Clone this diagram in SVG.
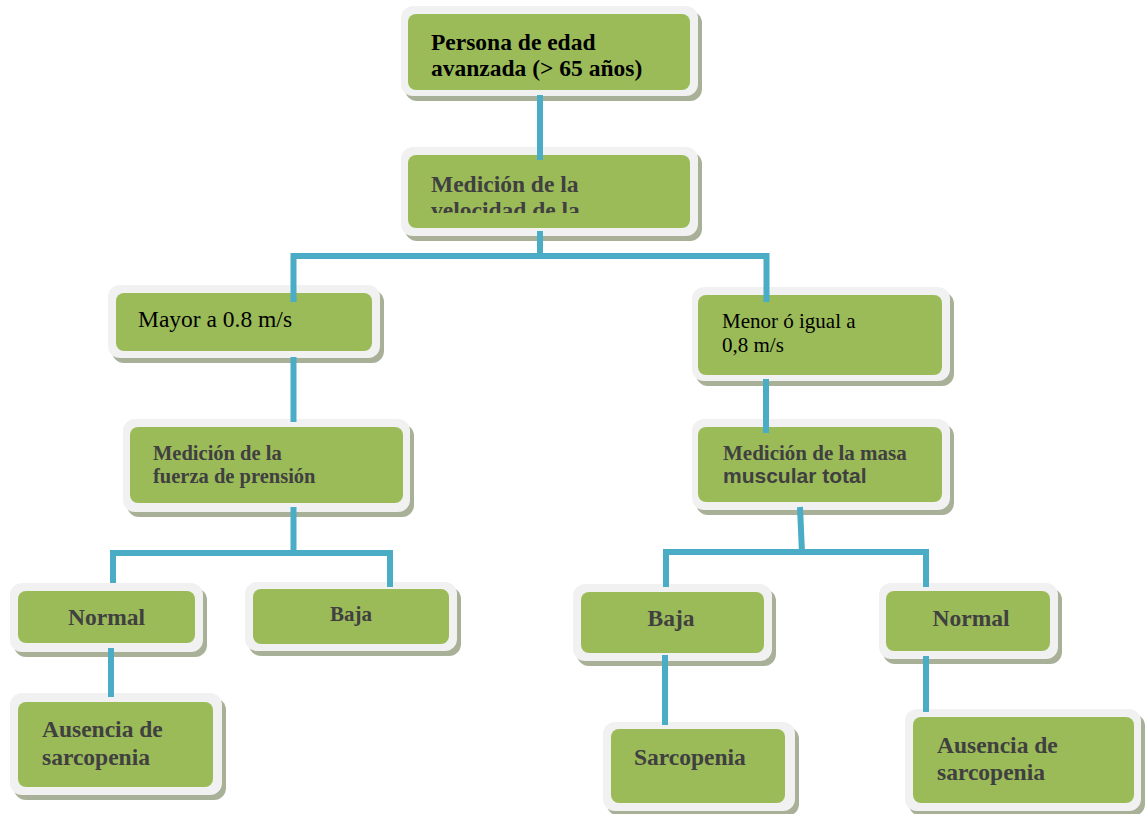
<svg xmlns="http://www.w3.org/2000/svg" width="1145" height="814" viewBox="0 0 1145 814">
<style>
.sh{fill:#a8b097}
.fr{fill:#f1f1f1}
.gr{fill:#9bbb59}
.t{font-family:"Liberation Serif","Times New Roman",serif;fill:#404040;font-weight:bold}
.k{fill:#000}
.r{font-weight:normal}
.s{font-family:"Liberation Sans",Arial,sans-serif}
.c{fill:none;stroke:#4bacc6;stroke-width:6}
</style>
<defs>
<clipPath id="clip2"><rect x="408" y="155" width="282" height="58"/></clipPath>
</defs>
<rect width="1145" height="814" fill="#fff"/>
<g id="n1">
<rect class="sh" x="405" y="11" width="297" height="90" rx="12"/>
<rect class="fr" x="401" y="6" width="297" height="90" rx="12"/>
<rect class="gr" x="408" y="14" width="282" height="76" rx="8"/>
<text class="t k" font-size="23.5" x="431" y="50">Persona de edad</text>
<text class="t k" font-size="23.5" x="431" y="76">avanzada (&gt; 65 años)</text>
</g>
<g id="n2">
<rect class="sh" x="405" y="152" width="297" height="89" rx="12"/>
<rect class="fr" x="401" y="147" width="297" height="89" rx="12"/>
<rect class="gr" x="408" y="155" width="282" height="73" rx="8"/>
<g clip-path="url(#clip2)">
<text class="t" font-size="23.5" x="431" y="192">Medición de la</text>
<text class="t" font-size="23.5" x="431" y="218">velocidad de la</text>
</g>
</g>
<g id="n3">
<rect class="sh" x="112" y="290" width="272" height="73" rx="12"/>
<rect class="fr" x="108" y="285" width="272" height="73" rx="12"/>
<rect class="gr" x="116" y="293" width="256" height="58" rx="8"/>
<text class="t k r" font-size="23.5" x="138" y="327">Mayor a 0.8 m/s</text>
</g>
<g id="n4">
<rect class="sh" x="696" y="292" width="258" height="94" rx="12"/>
<rect class="fr" x="692" y="287" width="258" height="94" rx="12"/>
<rect class="gr" x="698" y="295" width="244" height="80" rx="8"/>
<text class="t k r" font-size="21" x="722" y="328">Menor ó igual a</text>
<text class="t k r" font-size="21" x="722" y="352">0,8 m/s</text>
</g>
<g id="n5">
<rect class="sh" x="127" y="424" width="287" height="93" rx="12"/>
<rect class="fr" x="123" y="419" width="287" height="93" rx="12"/>
<rect class="gr" x="130" y="427" width="273" height="76" rx="8"/>
<text class="t" font-size="20.5" x="153" y="460">Medición de la</text>
<text class="t" font-size="20.5" x="153" y="483">fuerza de prensión</text>
</g>
<g id="n6">
<rect class="sh" x="696" y="424" width="258" height="91" rx="12"/>
<rect class="fr" x="692" y="419" width="258" height="91" rx="12"/>
<rect class="gr" x="698" y="427" width="244" height="75" rx="8"/>
<text class="t" font-size="21" x="723" y="460">Medición de la masa</text>
<text class="t s" font-size="21" x="723" y="483">muscular total</text>
</g>
<g id="n7">
<rect class="sh" x="14" y="588" width="193" height="69" rx="12"/>
<rect class="fr" x="10" y="583" width="193" height="69" rx="12"/>
<rect class="gr" x="18" y="591" width="177" height="52" rx="8"/>
<text class="t" font-size="23.5" x="106.5" y="625" text-anchor="middle">Normal</text>
</g>
<g id="n8">
<rect class="sh" x="249" y="587" width="212" height="69" rx="12"/>
<rect class="fr" x="245" y="582" width="212" height="69" rx="12"/>
<rect class="gr" x="253" y="589" width="196" height="55" rx="8"/>
<text class="t" font-size="21" x="351" y="621" text-anchor="middle">Baja</text>
</g>
<g id="n9">
<rect class="sh" x="14" y="698" width="212" height="102" rx="12"/>
<rect class="fr" x="10" y="693" width="212" height="102" rx="12"/>
<rect class="gr" x="18" y="702" width="195" height="85" rx="8"/>
<text class="t" font-size="23.5" x="42" y="737">Ausencia de</text>
<text class="t" font-size="23.5" x="42" y="765">sarcopenia</text>
</g>
<g id="n10">
<rect class="sh" x="577" y="589" width="199" height="77" rx="12"/>
<rect class="fr" x="573" y="584" width="199" height="77" rx="12"/>
<rect class="gr" x="581" y="592" width="183" height="61" rx="8"/>
<text class="t" font-size="23.5" x="671" y="626" text-anchor="middle">Baja</text>
</g>
<g id="n11">
<rect class="sh" x="607" y="727" width="192" height="89" rx="12"/>
<rect class="fr" x="603" y="722" width="192" height="89" rx="12"/>
<rect class="gr" x="611" y="729" width="174" height="74" rx="8"/>
<text class="t" font-size="23.5" x="634" y="765">Sarcopenia</text>
</g>
<g id="n12">
<rect class="sh" x="883" y="588" width="179" height="76" rx="12"/>
<rect class="fr" x="879" y="583" width="179" height="76" rx="12"/>
<rect class="gr" x="886" y="591" width="164" height="60" rx="8"/>
<text class="t" font-size="23.5" x="971" y="626" text-anchor="middle">Normal</text>
</g>
<g id="n13">
<rect class="sh" x="909" y="714" width="236" height="102" rx="12"/>
<rect class="fr" x="905" y="709" width="236" height="102" rx="12"/>
<rect class="gr" x="913" y="717" width="221" height="86" rx="8"/>
<text class="t" font-size="23.5" x="937" y="753">Ausencia de</text>
<text class="t" font-size="23.5" x="937" y="780">sarcopenia</text>
</g>
<g id="connectors" class="c">
<path d="M540,95 V160"/>
<path d="M540,231 V256"/>
<path d="M293.5,302 V256 H766.5 V302"/>
<path d="M293.5,357 V422"/>
<path d="M766,379 V433"/>
<path d="M293.5,507 V553"/>
<path d="M113,583 V553 H390 V587"/>
<path d="M800,507 L802,553"/>
<path d="M666,587 V552 H926 V587"/>
<path d="M111,648 V697"/>
<path d="M665,655 V725"/>
<path d="M926,656 V712"/>
</g>
</svg>
